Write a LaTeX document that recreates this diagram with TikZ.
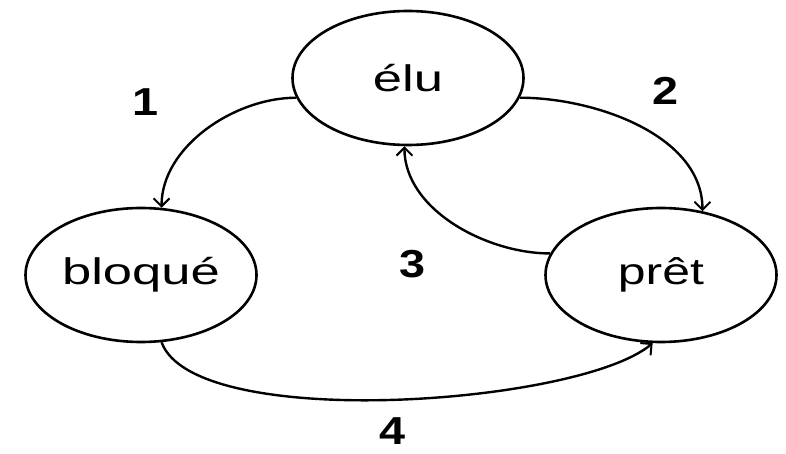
\documentclass[tikz,border=0pt]{standalone}
\usepackage{fontspec}
\setmainfont{Liberation Sans}
\usetikzlibrary{shapes.geometric,arrows.meta}
\tikzset{
  state/.style={ellipse, draw, line width=2.6pt, minimum width=231pt, minimum height=134pt, inner sep=0pt, font=\fontsize{37}{40}\selectfont},
  trans/.style={line width=2.4pt, -{Straight Barb[length=8pt,width=16pt,line width=2pt]}},
  num/.style={font=\fontsize{39}{42}\selectfont\bfseries, inner sep=0pt}
}
\begin{document}
\begin{tikzpicture}[x=1pt,y=-1pt]
\useasboundingbox (0,0) rectangle (786,454);
\node[state] (elu) at (408,78) {\scalebox{1.42}[1]{élu}};
\node[state] (bloque) at (141,275) {\scalebox{1.42}[1]{bloqué}};
\node[state] (pret) at (661,275) {\scalebox{1.35}[1]{prêt}};
\draw[trans] (elu.190) to[out=180,in=90,looseness=0.9] (bloque.73);
\draw[trans] (elu.-10) to[out=0,in=90,looseness=0.9] (pret.57);
\draw[trans] (pret.169) to[out=180,in=-90,looseness=0.9] (elu.267);
\draw[trans] (bloque.-73) to[out=-70,in=220,looseness=0.5] (pret.263);
\node[num] (n1) at (146,102) {\scalebox{1.2}[1]{1}};
\node[num] (n2) at (666,91) {\scalebox{1.2}[1]{2}};
\node[num] (n3) at (413,264) {\scalebox{1.2}[1]{3}};
\node[num] (n4) at (393,431) {\scalebox{1.2}[1]{4}};
\end{tikzpicture}
\end{document}
